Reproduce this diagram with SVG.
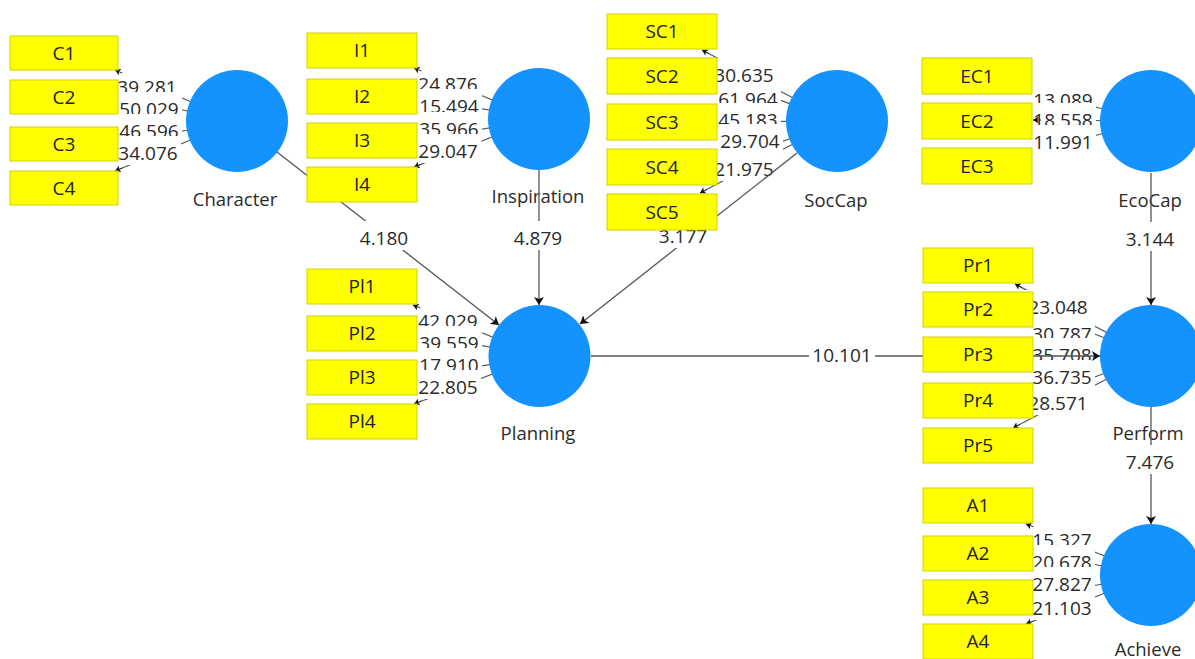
<svg xmlns="http://www.w3.org/2000/svg" width="1195" height="659" viewBox="0 0 1195 659">
  <style>
    .bg { fill: #ffffff; }
    text { font-family: "Open Sans", "Noto Sans", "DejaVu Sans", sans-serif; fill: #2a2a2a; }
    .num { font-size: 19px; text-anchor: middle; }
    .name { font-size: 18.5px; text-anchor: middle; }
    .ind rect { fill: #ffff00; stroke: #d2d200; stroke-width: 1; }
    .ind text { font-size: 19px; text-anchor: middle; fill: #222; }
    .lv { fill: #1493ff; }
    .edge { stroke: #555; stroke-width: 1.2; fill: none; }
    .path { stroke: #555; stroke-width: 1.3; fill: none; marker-end: url(#arrow); }
    .tip { stroke: #333; stroke-width: 1; fill: none; marker-end: url(#tip); }
  </style>
  <defs>
    <marker id="arrow" viewBox="0 0 8 10" refX="8" refY="5" markerWidth="8" markerHeight="10" markerUnits="userSpaceOnUse" orient="auto">
      <path d="M0,0 L8,5 L0,10 L2,5 z" fill="#111"/>
    </marker>
    <marker id="tip" viewBox="0 0 8 10" refX="8" refY="5" markerWidth="6" markerHeight="7" markerUnits="userSpaceOnUse" orient="auto">
      <path d="M0,0 L8,5 L0,10 L2,5 z" fill="#111"/>
    </marker>
  </defs>

  <!-- outer loadings: latent variable to indicator lines -->
  <g id="loading-lines">
    <line class="edge" x1="237" y1="121" x2="115" y2="70"/>
    <line class="edge" x1="237" y1="121" x2="118" y2="97"/>
    <line class="edge" x1="237" y1="121" x2="118" y2="143"/>
    <line class="edge" x1="237" y1="121" x2="115" y2="171"/>

    <line class="edge" x1="539" y1="119" x2="414" y2="68"/>
    <line class="edge" x1="539" y1="119" x2="417" y2="97"/>
    <line class="edge" x1="539" y1="119" x2="417" y2="141"/>
    <line class="edge" x1="539" y1="119" x2="414" y2="167"/>

    <line class="edge" x1="837" y1="121" x2="702" y2="50"/>
    <line class="edge" x1="837" y1="121" x2="717" y2="77"/>
    <line class="edge" x1="837" y1="121" x2="717" y2="122"/>
    <line class="edge" x1="837" y1="121" x2="717" y2="166"/>
    <line class="edge" x1="837" y1="121" x2="700" y2="193"/>

    <line class="edge" x1="1151" y1="121" x2="1032" y2="91"/>
    <line class="edge" x1="1151" y1="121" x2="1033" y2="120"/>
    <line class="edge" x1="1151" y1="121" x2="1032" y2="152"/>

    <line class="edge" x1="539.5" y1="356" x2="413" y2="305"/>
    <line class="edge" x1="539.5" y1="356" x2="417" y2="334"/>
    <line class="edge" x1="539.5" y1="356" x2="417" y2="377"/>
    <line class="edge" x1="539.5" y1="356" x2="414" y2="404"/>

    <line class="edge" x1="1151" y1="356" x2="1015" y2="284"/>
    <line class="edge" x1="1151" y1="356" x2="1033" y2="310"/>
    <line class="edge" x1="1151" y1="356" x2="1033" y2="356"/>
    <line class="edge" x1="1151" y1="356" x2="1033" y2="400"/>
    <line class="edge" x1="1151" y1="356" x2="1013" y2="428"/>

    <line class="edge" x1="1151" y1="575" x2="1026" y2="524"/>
    <line class="edge" x1="1151" y1="575" x2="1033" y2="553"/>
    <line class="edge" x1="1151" y1="575" x2="1033" y2="597"/>
    <line class="edge" x1="1151" y1="575" x2="1026" y2="624"/>
  </g>

  <!-- loading t-values; each white backing hides the line beneath it -->
  <g id="loading-labels">
    <rect class="bg" x="114" y="70" width="66" height="29"/><text class="num" x="147" y="94">39.281</text>
    <rect class="bg" x="116" y="92" width="66" height="29"/><text class="num" x="149" y="116">50.029</text>
    <rect class="bg" x="116" y="114" width="66" height="29"/><text class="num" x="149" y="138">46.596</text>
    <rect class="bg" x="115" y="136" width="66" height="29"/><text class="num" x="148" y="160">34.076</text>

    <rect class="bg" x="415" y="67" width="66" height="29"/><text class="num" x="448" y="91">24.876</text>
    <rect class="bg" x="416" y="89" width="66" height="29"/><text class="num" x="449" y="113">15.494</text>
    <rect class="bg" x="416" y="112" width="66" height="29"/><text class="num" x="449" y="136">35.966</text>
    <rect class="bg" x="415" y="134" width="66" height="29"/><text class="num" x="448" y="158">29.047</text>

    <rect class="bg" x="711" y="58" width="66" height="29"/><text class="num" x="744" y="82">30.635</text>
    <rect class="bg" x="715" y="82" width="66" height="29"/><text class="num" x="748" y="106">61.964</text>
    <rect class="bg" x="715" y="103" width="66" height="29"/><text class="num" x="748" y="127">45.183</text>
    <rect class="bg" x="717" y="124" width="66" height="29"/><text class="num" x="750" y="148">29.704</text>
    <rect class="bg" x="711" y="152" width="66" height="29"/><text class="num" x="744" y="176">21.975</text>

    <rect class="bg" x="1030" y="83" width="66" height="29"/><text class="num" x="1063" y="107">13.089</text>
    <rect class="bg" x="1030" y="103" width="66" height="29"/><text class="num" x="1063" y="127">18.558</text>
    <rect class="bg" x="1030" y="125" width="66" height="29"/><text class="num" x="1063" y="149">11.991</text>

    <rect class="bg" x="415" y="304" width="66" height="29"/><text class="num" x="448" y="328">42.029</text>
    <rect class="bg" x="416" y="326" width="66" height="29"/><text class="num" x="449" y="350">39.559</text>
    <rect class="bg" x="416" y="348" width="66" height="29"/><text class="num" x="449" y="372">17.910</text>
    <rect class="bg" x="415" y="370" width="66" height="29"/><text class="num" x="448" y="394">22.805</text>

    <rect class="bg" x="1025" y="290" width="66" height="29"/><text class="num" x="1058" y="314">23.048</text>
    <rect class="bg" x="1029" y="317" width="66" height="29"/><text class="num" x="1062" y="341">30.787</text>
    <rect class="bg" x="1029" y="338" width="66" height="29"/><text class="num" x="1062" y="362">35.708</text>
    <rect class="bg" x="1029" y="360" width="66" height="29"/><text class="num" x="1062" y="384">36.735</text>
    <rect class="bg" x="1025" y="386" width="66" height="29"/><text class="num" x="1058" y="410">28.571</text>

    <rect class="bg" x="1029" y="523" width="66" height="29"/><text class="num" x="1062" y="547">15.327</text>
    <rect class="bg" x="1029" y="545" width="66" height="29"/><text class="num" x="1062" y="569">20.678</text>
    <rect class="bg" x="1029" y="567" width="66" height="29"/><text class="num" x="1062" y="591">27.827</text>
    <rect class="bg" x="1029" y="591" width="66" height="29"/><text class="num" x="1062" y="615">21.103</text>
  </g>

  <!-- latent variables -->
  <g id="Character"><circle class="lv" cx="237" cy="121" r="51"/><text class="name" x="235" y="206">Character</text></g>
  <g id="Inspiration"><circle class="lv" cx="539" cy="119" r="51"/><text class="name" x="538" y="203">Inspiration</text></g>
  <g id="SocCap"><circle class="lv" cx="837" cy="121" r="51"/><text class="name" x="836" y="207">SocCap</text></g>
  <g id="EcoCap"><circle class="lv" cx="1151" cy="121" r="51"/><text class="name" x="1150" y="207">EcoCap</text></g>
  <g id="Planning"><circle class="lv" cx="539.5" cy="356" r="51"/><text class="name" x="538" y="440">Planning</text></g>
  <g id="Perform"><circle class="lv" cx="1151" cy="356" r="51"/><text class="name" x="1148" y="440">Perform</text></g>
  <g id="Achieve"><circle class="lv" cx="1151" cy="575" r="51"/><text class="name" x="1148" y="656">Achieve</text></g>

  <!-- structural paths -->
  <g id="paths">
    <line class="path" x1="277" y1="152" x2="499" y2="325"/>
    <line class="path" x1="539" y1="170" x2="539" y2="305"/>
    <line class="path" x1="797" y1="153" x2="580" y2="324"/>
    <line class="path" x1="1151" y1="173" x2="1151" y2="305"/>
    <line class="path" x1="591" y1="356" x2="1100" y2="356"/>
    <line class="path" x1="1151" y1="407" x2="1151" y2="524"/>
  </g>

  <!-- path t-values -->
  <g id="path-labels">
    <rect class="bg" x="352" y="221" width="64" height="29"/><text class="num" x="384" y="245">4.180</text>
    <rect class="bg" x="506" y="221" width="64" height="29"/><text class="num" x="538" y="245">4.879</text>
    <rect class="bg" x="651" y="219" width="64" height="29"/><text class="num" x="683" y="243">3.177</text>
    <rect class="bg" x="1118" y="222" width="64" height="29"/><text class="num" x="1150" y="246">3.144</text>
    <rect class="bg" x="809" y="338" width="66" height="29"/><text class="num" x="842" y="362">10.101</text>
    <rect class="bg" x="1118" y="445" width="64" height="29"/><text class="num" x="1150" y="469">7.476</text>
  </g>

  <!-- arrow tips of the loadings -->
  <g id="loading-tips">
    <line class="tip" x1="122.4" y1="73.1" x2="115" y2="70"/>
    <line class="tip" x1="122.4" y1="168" x2="115" y2="171"/>
    <line class="tip" x1="421.4" y1="71" x2="414" y2="68"/>
    <line class="tip" x1="421.5" y1="164.1" x2="414" y2="167"/>
    <line class="tip" x1="709" y1="53.7" x2="702" y2="50"/>
    <line class="tip" x1="707" y1="189.3" x2="700" y2="193"/>
    <line class="tip" x1="1041" y1="120" x2="1033" y2="120"/>
    <line class="tip" x1="420.4" y1="308" x2="413" y2="305"/>
    <line class="tip" x1="421.5" y1="400.9" x2="414" y2="404"/>
    <line class="tip" x1="1022" y1="287.7" x2="1015" y2="284"/>
    <line class="tip" x1="1020" y1="424.3" x2="1013" y2="428"/>
    <line class="tip" x1="1033.4" y1="526.8" x2="1026" y2="524"/>
    <line class="tip" x1="1033.4" y1="621.1" x2="1026" y2="624"/>
  </g>

  <!-- indicators -->
  <g id="C1" class="ind"><rect x="10" y="36" width="108" height="34"/><text x="64" y="60">C1</text></g>
  <g id="C2" class="ind"><rect x="10" y="80" width="108" height="34"/><text x="64" y="104">C2</text></g>
  <g id="C3" class="ind"><rect x="10" y="127" width="108" height="34"/><text x="64" y="151">C3</text></g>
  <g id="C4" class="ind"><rect x="10" y="171" width="108" height="34"/><text x="64" y="195">C4</text></g>

  <g id="I1" class="ind"><rect x="307" y="33" width="110" height="35"/><text x="362" y="57">I1</text></g>
  <g id="I2" class="ind"><rect x="307" y="79" width="110" height="35"/><text x="362" y="103">I2</text></g>
  <g id="I3" class="ind"><rect x="307" y="123" width="110" height="35"/><text x="362" y="147">I3</text></g>
  <g id="I4" class="ind"><rect x="307" y="167" width="110" height="35"/><text x="362" y="191">I4</text></g>

  <g id="SC1" class="ind"><rect x="607" y="14" width="110" height="35"/><text x="662" y="38">SC1</text></g>
  <g id="SC2" class="ind"><rect x="607" y="58" width="110" height="36"/><text x="662" y="83">SC2</text></g>
  <g id="SC3" class="ind"><rect x="607" y="104" width="110" height="36"/><text x="662" y="129">SC3</text></g>
  <g id="SC4" class="ind"><rect x="607" y="149" width="110" height="36"/><text x="662" y="174">SC4</text></g>
  <g id="SC5" class="ind"><rect x="607" y="194" width="110" height="36"/><text x="662" y="219">SC5</text></g>

  <g id="EC1" class="ind"><rect x="922" y="58" width="110" height="36"/><text x="977" y="83">EC1</text></g>
  <g id="EC2" class="ind"><rect x="922" y="103" width="110" height="36"/><text x="977" y="128">EC2</text></g>
  <g id="EC3" class="ind"><rect x="922" y="148" width="110" height="36"/><text x="977" y="173">EC3</text></g>

  <g id="Pl1" class="ind"><rect x="307" y="269" width="110" height="35"/><text x="362" y="293">Pl1</text></g>
  <g id="Pl2" class="ind"><rect x="307" y="316" width="110" height="35"/><text x="362" y="340">Pl2</text></g>
  <g id="Pl3" class="ind"><rect x="307" y="360" width="110" height="35"/><text x="362" y="384">Pl3</text></g>
  <g id="Pl4" class="ind"><rect x="307" y="404" width="110" height="35"/><text x="362" y="428">Pl4</text></g>

  <g id="Pr1" class="ind"><rect x="923" y="248" width="110" height="35"/><text x="978" y="272">Pr1</text></g>
  <g id="Pr2" class="ind"><rect x="923" y="292" width="110" height="35"/><text x="978" y="316">Pr2</text></g>
  <g id="Pr3" class="ind"><rect x="923" y="337" width="110" height="35"/><text x="978" y="361">Pr3</text></g>
  <g id="Pr4" class="ind"><rect x="923" y="383" width="110" height="35"/><text x="978" y="407">Pr4</text></g>
  <g id="Pr5" class="ind"><rect x="923" y="428" width="110" height="35"/><text x="978" y="452">Pr5</text></g>

  <g id="A1" class="ind"><rect x="923" y="488" width="110" height="35"/><text x="978" y="512">A1</text></g>
  <g id="A2" class="ind"><rect x="923" y="536" width="110" height="35"/><text x="978" y="560">A2</text></g>
  <g id="A3" class="ind"><rect x="923" y="580" width="110" height="35"/><text x="978" y="604">A3</text></g>
  <g id="A4" class="ind"><rect x="923" y="624" width="110" height="35"/><text x="978" y="648">A4</text></g>
</svg>
